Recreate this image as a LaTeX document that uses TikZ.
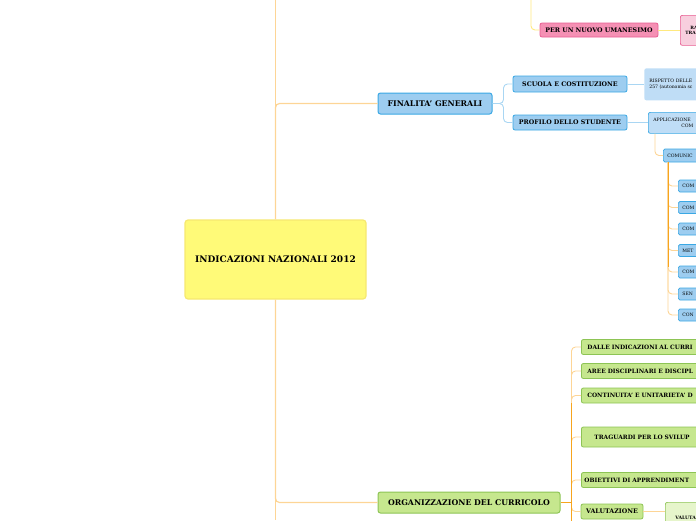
\documentclass[tikz,border=0pt]{standalone}
\usepackage{fontspec}
\setmainfont{DejaVu Serif}
\usetikzlibrary{positioning}
\definecolor{yelfill}{HTML}{FFFA78}
\definecolor{yeldraw}{HTML}{F6E870}
\definecolor{bluefill}{HTML}{9DCDF0}
\definecolor{bluedraw}{HTML}{3AA8E4}
\definecolor{lbluefill}{HTML}{BFDDF6}
\definecolor{pinkfill}{HTML}{F590B4}
\definecolor{pinkdraw}{HTML}{E85D92}
\definecolor{lpinkfill}{HTML}{F8CFDE}
\definecolor{greenfill}{HTML}{C6E78E}
\definecolor{greendraw}{HTML}{8DC455}
\definecolor{lgreenfill}{HTML}{E6F5CB}
\definecolor{lorange}{HTML}{FDD596}
\definecolor{dorange}{HTML}{F7A51E}
\definecolor{lblue}{HTML}{A9D6F3}
\definecolor{lyellow}{HTML}{FFE97F}

\begin{document}
\begin{tikzpicture}[x=1pt, y=-1pt,
    root/.style={fill=yelfill, draw=yeldraw, line width=1.2pt, rounded corners=3pt,
        minimum width=181pt, minimum height=79pt, font=\bfseries\fontsize{9}{10}\selectfont},
    topic/.style={rounded corners=2.5pt, line width=1pt, minimum height=21pt,
        font=\bfseries\fontsize{7.8}{9}\selectfont},
    sub/.style={rounded corners=2pt, line width=0.8pt, minimum height=15pt,
        font=\bfseries\fontsize{6.3}{7}\selectfont},
    leaf/.style={rounded corners=2pt, line width=0.7pt, anchor=north west, align=left,
        inner sep=0pt, font=\fontsize{4.6}{5.8}\selectfont},
    comp/.style={fill=bluefill, draw=bluedraw, rounded corners=1.5pt, line width=0.7pt,
        anchor=west, minimum height=12pt, text width=40pt, align=left, inner xsep=4pt,
        font=\fontsize{4.6}{5}\selectfont},
    gitem/.style={sub, fill=greenfill, draw=greendraw, anchor=west, text width=130pt,
        align=left, inner xsep=5pt, font=\bfseries\fontsize{5.9}{7}\selectfont},
    trunk/.style={lorange, line width=1.2pt, rounded corners=4pt},
    twig/.style={line width=0.9pt, rounded corners=4pt}]
\useasboundingbox (0,0) rectangle (696,520);
\clip (0,0) rectangle (696,520);

\node[root] (ind) at (275.5,259.5) {INDICAZIONI NAZIONALI 2012};

\node[topic, fill=bluefill, draw=bluedraw, minimum width=114pt] (fin) at (435,103.5) {FINALITA' GENERALI};
\node[topic, fill=greenfill, draw=greendraw, minimum width=182pt] (org) at (469,502.5) {ORGANIZZAZIONE DEL CURRICOLO};

\coordinate (up) at (275.5,0);
\coordinate (down) at (275.5,520);
\draw[trunk] (ind.north) -- (up);
\draw[trunk] (ind.north) |- (fin.west);
\draw[trunk] (ind.south) -- (down);
\draw[trunk] (ind.south) |- (org.west);

% per un nuovo umanesimo
\node[sub, fill=pinkfill, draw=pinkdraw, minimum width=118pt, minimum height=14pt] (pnu) at (599,30) {PER UN NUOVO UMANESIMO};
\node[leaf, fill=lpinkfill, draw=pinkdraw, minimum width=40pt, minimum height=30pt, text width=30pt,
    inner xsep=3.5pt, inner ysep=9pt, font=\bfseries\fontsize{4.4}{5.8}\selectfont] (ra) at (680,15) {\hspace*{5pt}RA\\TRA};
\coordinate (pnutop) at (531,0);
\draw[twig, lyellow] (pnutop) |- (pnu.west);
\draw[twig, lyellow] (pnu.east) -- (ra.west |- pnu.east);

% finalita'
\node[sub, fill=bluefill, draw=bluedraw, minimum width=114pt, minimum height=16pt] (sc) at (570,84) {SCUOLA E COSTITUZIONE};
\node[sub, fill=bluefill, draw=bluedraw, minimum width=114pt] (prof) at (570,122.5) {PROFILO DELLO STUDENTE};
\draw[twig, lblue] (fin.east) -- ++(11,0) |- (sc.west);
\draw[twig, lblue] (fin.east) -- ++(11,0) |- (prof.west);

\node[leaf, fill=lbluefill, minimum width=80pt, minimum height=32pt, inner xsep=3pt, inner ysep=8pt,
    text width=70pt] (risp) at (644,68) {RISPETTO DELLE\\257 (autonomia sc};
\node[leaf, fill=lbluefill, draw=bluedraw, minimum width=70pt, minimum height=21pt, inner xsep=5pt,
    inner ysep=4pt, text width=60pt] (appl) at (648,112) {APPLICAZIONE\\\hspace*{28pt}COM};
\draw[twig, lblue] (sc.east) -- (risp.west |- sc.east);
\draw[twig, lblue] (prof.east) -- (appl.west |- prof.east);

\node[comp, minimum height=13pt] (comu) at (663,155.5) {COMUNIC};
\draw[twig, lorange] ([xshift=7pt]appl.south west) |- (comu.west);

\foreach \nm/\lab/\yy in {ca/COM/186, cb/COM/207.5, cc/COM/229, cd/MET/250.5,
    ce/COM/272, cf/SEN/294, cg/CON/315} {
    \node[comp] (\nm) at (678,\yy) {\lab};
    \draw[twig, lorange] ([xshift=5pt]comu.south west) |- (\nm.west);
}
\draw[dorange, line width=1pt] ([xshift=5pt]comu.south west) -- ++(0,105);

% organizzazione del curricolo
\foreach \nm/\lab/\yy/\hh/\pad in {dal/DALLE INDICAZIONI AL CURRI/347/15/6,
    aree/AREE DISCIPLINARI E DISCIPL/371/15/6, cont/CONTINUITA' E UNITARIETA' D/395.5/15/6,
    trag/TRAGUARDI PER LO SVILUP/437/20/13, obi/OBIETTIVI DI APPRENDIMENT/480/15/3} {
    \node[gitem, minimum height=\hh pt, inner xsep=\pad pt] (\nm) at (581,\yy) {\lab};
    \draw[twig, lorange] ([xshift=11pt]org.east) |- (\nm.west);
}
\node[sub, fill=greenfill, draw=greendraw, minimum width=62pt] (val) at (612,511.5) {VALUTAZIONE};
\draw[twig, lorange] ([xshift=11pt]org.east) |- (val.west);
\draw[dorange, line width=1pt] (org.east) -- ++(11,0);
\draw[dorange, line width=1pt] ([xshift=11pt]org.east) -- ++(0,-100) ([xshift=11pt]org.east) -- ++(0,20);

\node[leaf, fill=lgreenfill, draw=greendraw, minimum width=60pt, minimum height=30pt, inner xsep=6pt,
    inner ysep=5pt, text width=40pt, font=\bfseries\fontsize{4.6}{5.8}\selectfont] (valt) at (665,502) {VALUTA};
\draw[twig, lorange] (val.east) -- (valt.west |- val.east);
\end{tikzpicture}
\end{document}
